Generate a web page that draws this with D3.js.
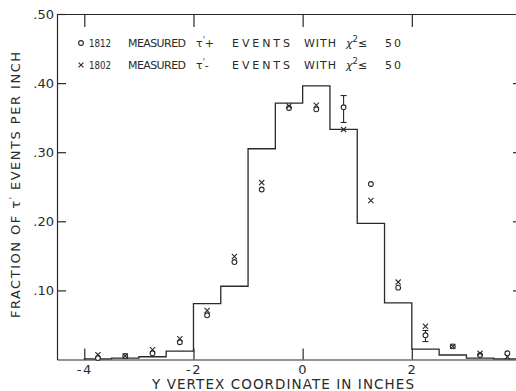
<!DOCTYPE html>
<html>
<head>
<meta charset="utf-8">
<script src="https://cdn.jsdelivr.net/npm/d3@7"></script>
<style>
  html, body { margin: 0; padding: 0; background: #fff; }
  svg { display: block; }
  text { font-family: "DejaVu Sans", "Liberation Sans", sans-serif; fill: #2a2a2a; }
</style>
</head>
<body>
<svg id="chart" width="516" height="391"></svg>
<script>
// Histogram of Y vertex coordinate (inches), bins of 0.5"
const binEdges = [-4, -3.5, -3, -2.5, -2, -1.5, -1, -0.5, 0, 0.5, 1, 1.5, 2, 2.5, 3, 3.5, 4];
const histValues = [0.001, 0.002, 0.004, 0.012, 0.081, 0.106, 0.305, 0.371, 0.396, 0.333, 0.197, 0.082, 0.015, 0.0065, 0.002, 0.001];

// Bin centres where measured points are plotted
const binCenters = [-3.75, -3.25, -2.75, -2.25, -1.75, -1.25, -0.75, -0.25, 0.25, 0.75, 1.25, 1.75, 2.25, 2.75, 3.25, 3.75];
// tau'+ events (circles)
const plusValues = [0.002, 0.005, 0.009, 0.025, 0.064, 0.141, 0.246, 0.364, 0.362, 0.365, 0.254, 0.104, 0.035, 0.019, 0.0065, 0.009];
// tau'- events (crosses)
const minusValues = [0.007, 0.005, 0.014, 0.030, 0.071, 0.149, 0.256, 0.367, 0.368, 0.333, 0.230, 0.112, 0.048, 0.019, 0.009, 0.004];
// Error bars on selected tau'+ points: [centre, low, high]
const plusErrors = [[0.75, 0.343, 0.382], [2.25, 0.026, 0.042]];

const xTicks = [-4, -2, 0, 2];
const yTicks = [0.1, 0.2, 0.3, 0.4, 0.5];

const svg = d3.select("#chart");
const ink = "#2a2a2a";

const x = d3.scaleLinear().domain([-4.5, 4.0]).range([57, 521]);
const y = d3.scaleLinear().domain([0, 0.5]).range([359.5, 14]);

const fmtY = d => d3.format(".2f")(d).replace(/^0/, "");

// Axes (ticks pointing inward)
const axisLeftG = svg.append("g").attr("transform", `translate(${x(-4.5)},0)`)
  .call(d3.axisLeft(y).tickValues(yTicks).tickFormat(fmtY).tickSizeInner(-9).tickSizeOuter(0).tickPadding(3));
const axisRightG = svg.append("g").attr("transform", `translate(${x(4.0)},0)`)
  .call(d3.axisRight(y).tickValues(yTicks.slice(0, 4)).tickFormat("").tickSizeInner(-8).tickSizeOuter(0));
const axisBottomG = svg.append("g").attr("transform", `translate(0,${y(0)})`)
  .call(d3.axisBottom(x).tickValues(xTicks).tickFormat(d => d < 0 ? "-" + Math.abs(d) : String(d)).tickSizeInner(-11).tickSizeOuter(0).tickPadding(5));
const axisTopG = svg.append("g").attr("transform", `translate(0,${y(0.5)})`)
  .call(d3.axisTop(x).tickValues(xTicks).tickFormat("").tickSizeInner(-13).tickSizeOuter(0));

[axisLeftG, axisRightG, axisBottomG, axisTopG].forEach(g => {
  g.select(".domain").attr("stroke", ink).attr("stroke-width", 1.2);
  g.selectAll(".tick line").attr("stroke", ink).attr("stroke-width", 1.2);
  g.selectAll(".tick text").attr("fill", ink).style("font-size", "13px")
    .style("font-family", "'DejaVu Sans', sans-serif");
});
axisBottomG.selectAll(".tick text").attr("letter-spacing", "1.5px");

// Histogram outline (step line)
const stepPts = binEdges.map((e, i) => [e, i < histValues.length ? histValues[i] : histValues[histValues.length - 1]]);
const stepLine = d3.line().x(d => x(d[0])).y(d => y(d[1])).curve(d3.curveStepAfter);
svg.append("path")
  .datum([[binEdges[0], 0], ...stepPts])
  .attr("d", stepLine)
  .attr("fill", "none").attr("stroke", ink).attr("stroke-width", 1.3);

// Error bars
const eb = svg.append("g").attr("stroke", ink).attr("stroke-width", 1.1);
plusErrors.forEach(([c, lo, hi]) => {
  eb.append("line").attr("x1", x(c)).attr("x2", x(c)).attr("y1", y(lo)).attr("y2", y(hi));
  eb.append("line").attr("x1", x(c) - 3).attr("x2", x(c) + 3).attr("y1", y(lo)).attr("y2", y(lo));
  eb.append("line").attr("x1", x(c) - 3).attr("x2", x(c) + 3).attr("y1", y(hi)).attr("y2", y(hi));
});

// tau'+ circles
svg.append("g").selectAll("circle")
  .data(binCenters.map((c, i) => [c, plusValues[i]]))
  .join("circle")
  .attr("cx", d => x(d[0])).attr("cy", d => y(d[1])).attr("r", 2.4)
  .attr("fill", "#fff").attr("stroke", ink).attr("stroke-width", 1.1);

// tau'- crosses
const cross = (cx, cy, s) => `M${cx - s},${cy - s}L${cx + s},${cy + s}M${cx - s},${cy + s}L${cx + s},${cy - s}`;
svg.append("g").selectAll("path")
  .data(binCenters.map((c, i) => [c, minusValues[i]]))
  .join("path")
  .attr("d", d => cross(x(d[0]), y(d[1]), 2.6))
  .attr("fill", "none").attr("stroke", ink).attr("stroke-width", 1.1);

// Legend
const legend = svg.append("g").style("font-size", "11px");
legend.append("circle").attr("cx", 81).attr("cy", 43).attr("r", 2.4)
  .attr("fill", "none").attr("stroke", ink).attr("stroke-width", 1.1);
legend.append("path").attr("d", cross(81, 65, 2.4)).attr("fill", "none").attr("stroke", ink).attr("stroke-width", 1.1);

const legendRows = [
  { y: 47, count: "1812", sign: "+" },
  { y: 69, count: "1802", sign: "-" }
];
legendRows.forEach(r => {
  const seg = (tx, str, len, adj) => legend.append("text").attr("x", tx).attr("y", r.y)
    .attr("textLength", len).attr("lengthAdjust", adj || "spacing").text(str);
  seg(89, r.count, 22, "spacingAndGlyphs");
  seg(128, "MEASURED", 58);
  const t = legend.append("text").attr("x", 196).attr("y", r.y);
  t.append("tspan").text("τ");
  t.append("tspan").attr("dy", -4).style("font-size", "8px").text("'");
  t.append("tspan").attr("dy", 4).text(r.sign);
  seg(232, "EVENTS", 58);
  seg(304, "WITH", 32);
  const c = legend.append("text").attr("x", 346).attr("y", r.y).style("font-style", "italic");
  c.append("tspan").text("χ");
  c.append("tspan").attr("dy", -5).style("font-size", "8.5px").style("font-style", "normal").text("2");
  legend.append("text").attr("x", 358).attr("y", r.y).text("≤");
  seg(385, "50", 16);
});

// Axis titles
svg.append("text")
  .attr("x", 152).attr("y", 388.5)
  .attr("textLength", 262).attr("lengthAdjust", "spacing")
  .style("font-size", "13.5px")
  .text("Y VERTEX COORDINATE IN INCHES");

const yt = svg.append("text")
  .attr("transform", "translate(20,318) rotate(-90)")
  .attr("x", 0).attr("y", 0)
  .style("font-size", "13px");
yt.append("tspan").text("FRACTION OF τ");
yt.append("tspan").attr("dy", -4).style("font-size", "8px").text("'");
yt.append("tspan").attr("dy", 4).text(" EVENTS PER INCH");
yt.attr("textLength", 266).attr("lengthAdjust", "spacing");
</script>
</body>
</html>
